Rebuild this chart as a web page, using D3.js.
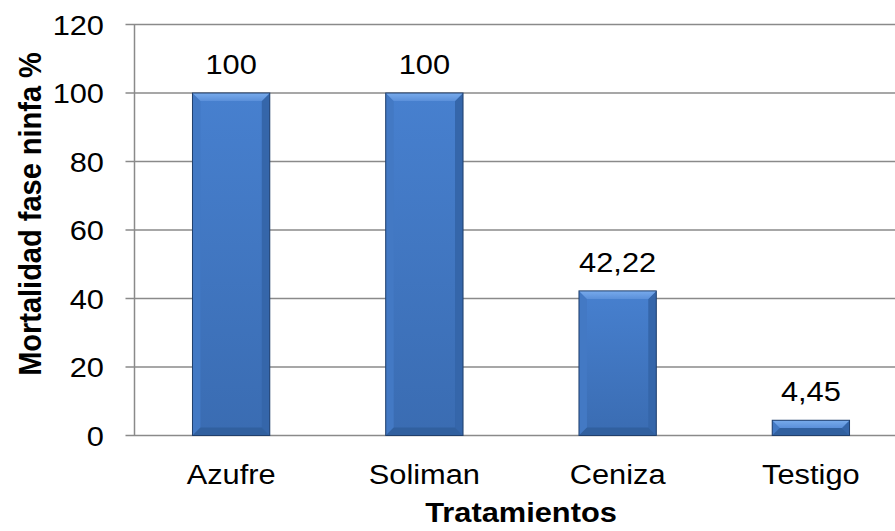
<!DOCTYPE html>
<html>
<head>
<meta charset="utf-8">
<script src="https://cdn.jsdelivr.net/npm/d3@7"></script>
<style>
  body { margin: 0; background: #fff; }
  svg { display: block; font-family: "Liberation Sans", Arial, sans-serif; }
</style>
</head>
<body>
<svg id="chart" width="895" height="531"></svg>
<script>
// data
var categories = ["Azufre", "Soliman", "Ceniza", "Testigo"];
var values = [100, 100, 42.22, 4.45];
var valueLabels = ["100", "100", "42,22", "4,45"];
var yTicks = [0, 20, 40, 60, 80, 100, 120];

var svg = d3.select("#chart");
var plotLeft = 134.5, plotRight = 907.5, plotTop = 24.5, plotBottom = 435.5;
var bev = 8;
var sx = 1.1; // the reference text is a bit stretched sideways

var x = d3.scaleBand().domain(categories).range([plotLeft, plotRight]).paddingInner(0.6).paddingOuter(0.3);
var y = d3.scaleLinear().domain([0, 120]).range([plotBottom, plotTop]);

function place(px, py) {
  return "translate(" + px + "," + py + ") scale(" + sx + ",1)";
}

// gradients for the bar face and top bevel
var defs = svg.append("defs");
var grad = defs.append("linearGradient").attr("id", "face").attr("x1", 0).attr("y1", 0).attr("x2", 0).attr("y2", 1);
grad.append("stop").attr("offset", "0%").attr("stop-color", "#4780cf");
grad.append("stop").attr("offset", "100%").attr("stop-color", "#3a6cb2");
var topGrad = defs.append("linearGradient").attr("id", "topbev").attr("x1", 0).attr("y1", 0).attr("x2", 0).attr("y2", 1);
topGrad.append("stop").attr("offset", "0%").attr("stop-color", "#78abec");
topGrad.append("stop").attr("offset", "100%").attr("stop-color", "#5b90da");

//gridlines
svg.append("g").selectAll("line.grid").data(yTicks).enter().append("line")
  .attr("class", "grid")
  .attr("x1", plotLeft - 9)
  .attr("x2", 895)
  .attr("y1", function (d) { return y(d); })
  .attr("y2", function (d) { return y(d); })
  .attr("stroke", "#8a8a8a")
  .attr("stroke-width", 1.5);

// y axis line
svg.append("line")
  .attr("x1", plotLeft).attr("x2", plotLeft)
  .attr("y1", y(120)).attr("y2", y(0))
  .attr("stroke", "#8a8a8a")
  .attr("stroke-width", 1.5);

// tick labels
svg.append("g").selectAll("text").data(yTicks).enter().append("text")
  .attr("transform", function (d) { return place(104, y(d)); })
  .attr("dy", "0.36em")
  .attr("text-anchor", "end")
  .style("font-size", "28px")
  .text(function (d) { return d; });

// bars
var bars = svg.append("g").selectAll("g.bar").data(values).enter().append("g").attr("class", "bar");

bars.each(function (d, i) {
  var g = d3.select(this);
  var x0 = x(categories[i]), w = x.bandwidth();
  var x1 = x0 + w, y0 = y(d), y1 = y(0);
  var b = Math.min(bev, (y1 - y0) / 2);
  g.append("rect")
    .attr("x", x0).attr("y", y0).attr("width", w).attr("height", y1 - y0)
    .attr("fill", "url(#face)");
  // left bevel
  g.append("polygon")
    .attr("points", [[x0, y0], [x0 + b, y0 + b], [x0 + b, y1 - b], [x0, y1]].join(" "))
    .attr("fill", "#4379c4");
  // right bevel
  g.append("polygon")
    .attr("points", [[x1, y0], [x1 - b, y0 + b], [x1 - b, y1 - b], [x1, y1]].join(" "))
    .attr("fill", "#3566aa");
  // bottom bevel
  g.append("polygon")
    .attr("points", [[x0, y1], [x0 + b, y1 - b], [x1 - b, y1 - b], [x1, y1]].join(" "))
    .attr("fill", "#31609f");
  // top bevel
  g.append("polygon")
    .attr("points", [[x0, y0], [x1, y0], [x1 - b, y0 + b], [x0 + b, y0 + b]].join(" "))
    .attr("fill", "url(#topbev)");
  g.append("rect")
    .attr("x", x0).attr("y", y0).attr("width", w).attr("height", y1 - y0)
    .attr("fill", "none")
    .attr("stroke", "#203f6c")
    .attr("stroke-width", 1);
});

// value labels
svg.append("g").selectAll("text").data(values).enter().append("text")
  .attr("transform", function (d, i) { return place(x(categories[i]) + x.bandwidth() / 2, y(d) - 19); })
  .attr("text-anchor", "middle")
  .style("font-size", "28px")
  .text(function (d, i) { return valueLabels[i]; });

// category labels
svg.append("g").selectAll("text").data(categories).enter().append("text")
  .attr("transform", function (d) { return place(x(d) + x.bandwidth() / 2, 484); })
  .attr("text-anchor", "middle")
  .style("font-size", "28px")
  .text(function (d) { return d; });

// axis titles
svg.append("text")
  .attr("transform", place((plotLeft + plotRight) / 2, 522))
  .attr("text-anchor", "middle")
  .style("font-size", "28px")
  .style("font-weight", "bold")
  .text("Tratamientos");

svg.append("text")
  .attr("transform", "translate(41,214) rotate(-90) scale(1,1.05)")
  .attr("text-anchor", "middle")
  .style("font-size", "29px")
  .style("font-weight", "bold")
  .text("Mortalidad fase ninfa %");
</script>
</body>
</html>
